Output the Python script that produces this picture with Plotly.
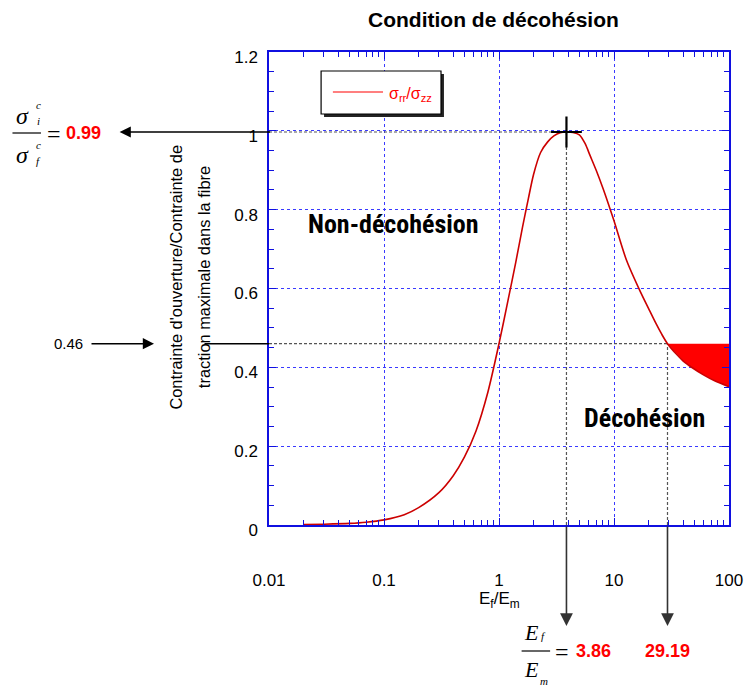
import math
import plotly.graph_objects as go

# ---------------- data ----------------
ef_em = [0.02, 0.03, 0.05, 0.07, 0.1, 0.15, 0.2, 0.3, 0.4, 0.5, 0.63, 0.8, 1.0, 1.2, 1.4,
         1.6, 1.8, 2.0, 2.3, 2.65, 3.0, 3.4, 3.86, 4.4, 5.0, 5.6, 6.2, 7.0, 8.0, 9.0, 10,
         12.8, 16.7, 20, 23.1, 26, 29.19, 35, 40, 48, 60, 75, 100]
ratio = [0.001, 0.002, 0.004, 0.007, 0.013, 0.026, 0.044, 0.082, 0.125, 0.172, 0.238,
         0.337, 0.46, 0.571, 0.667, 0.755, 0.828, 0.89, 0.945, 0.972, 0.987, 0.995, 0.997,
         0.996, 0.99, 0.968, 0.937, 0.90, 0.855, 0.812, 0.772, 0.673, 0.596, 0.549, 0.512,
         0.484, 0.46, 0.433, 0.416, 0.399, 0.381, 0.366, 0.351]

peak_x = 3.86
peak_y = 0.997
peak_label = "0.99"
threshold_y = 0.46
threshold_label = "0.46"
threshold_x = 29.19

x_tickvals = [0.01, 0.1, 1, 10, 100]
x_ticktext = ["0.01", "0.1", "1", "10", "100"]
y_tickvals = [0, 0.2, 0.4, 0.6, 0.8, 1.0, 1.2]
y_ticktext = ["0", "0.2", "0.4", "0.6", "0.8", "1", "1.2"]

title_text = "Condition de décohésion"
y_title_lines = ["Contrainte d'ouverture/Contrainte de", "traction maximale dans la fibre"]
x_title = "E<sub>f</sub>/E<sub>m</sub>"
legend_text = "σ<sub>rr</sub>/σ<sub>zz</sub>"
zone_upper = "Non-décohésion"
zone_lower = "Décohésion"

# ---------------- layout geometry ----------------
W, H = 755, 686
OFF = 8  # page body margin
L, R, T, B = 269, 737, 52, 525
PW, PH = R - L, B - T


def px(xp):
    return (xp - L) / PW


def py(yp):
    return (B - yp) / PH


SANS = "Arial, Liberation Sans, sans-serif"
NARROW = "Liberation Sans Narrow, Arial Narrow, Roboto Condensed, DejaVu Sans Condensed, sans-serif"
SERIF = "Times New Roman, Liberation Serif, serif"
BLUE = "#1010e0"
GRIDBLUE = "#3a3aff"
RED = "#ff0000"
CURVE = "#cc0000"
DASH = "#555555"

fig = go.Figure()

# fill (décohésion region)
fx = [v for v in ef_em if v >= threshold_x]
fy = [r for v, r in zip(ef_em, ratio) if v >= threshold_x]
fig.add_trace(go.Scatter(x=fx + [fx[-1], fx[0]], y=fy + [threshold_y, threshold_y],
                         fill="toself", fillcolor=RED, mode="lines",
                         line=dict(width=0, color=RED), showlegend=False, hoverinfo="skip"))

# dashed guide lines
for xs, ys in [([0.01, peak_x], [peak_y, peak_y]),
               ([peak_x, peak_x], [0, peak_y]),
               ([0.01, threshold_x], [threshold_y, threshold_y]),
               ([threshold_x, threshold_x], [0, threshold_y])]:
    fig.add_trace(go.Scatter(x=xs, y=ys, mode="lines",
                             line=dict(color=DASH, width=1.2, dash="3px,2px"),
                             showlegend=False, hoverinfo="skip"))

# curve
fig.add_trace(go.Scatter(x=ef_em, y=ratio, mode="lines", line=dict(color=CURVE, width=1.6),
                         name="σrr/σzz", showlegend=False, line_shape="spline",
                         line_smoothing=0.8))

# peak marker
fig.add_trace(go.Scatter(x=[peak_x], y=[peak_y], mode="markers",
                         marker=dict(symbol="cross-thin", size=22,
                                     line=dict(color="black", width=2.2)),
                         showlegend=False, hoverinfo="skip"))

axis_common = dict(showline=True, linecolor=BLUE, linewidth=1.5, mirror="allticks",
                   ticks="inside", tickcolor=BLUE, ticklen=7, tickwidth=1,
                   showgrid=True, gridcolor=GRIDBLUE, gridwidth=1, griddash="dot",
                   zeroline=False, tickfont=dict(family=SANS, size=17, color="black"))

fig.update_xaxes(type="log", range=[-2, 2], tickvals=x_tickvals, ticktext=x_ticktext,
                 ticklabelstandoff=39,
                 minor=dict(ticks="inside", ticklen=5, tickcolor=BLUE, showgrid=False,
                            tickvals=[m * 10 ** e for e in range(-2, 2) for m in range(2, 10)]),
                 **axis_common)
fig.update_yaxes(range=[0, 1.2], tickvals=y_tickvals, ticktext=y_ticktext,
                 ticklabelstandoff=6, ticklabelshift=5,
                 minor=dict(ticks="inside", ticklen=5, tickcolor=BLUE, showgrid=False, dtick=0.05),
                 **axis_common)

ann = []
shapes = []


def text(xp, yp, s, size, color="black", family=SANS, xanchor="center", angle=0):
    ann.append(dict(xref="paper", yref="paper", x=px(xp), y=py(yp), text=s, showarrow=False,
                    xanchor=xanchor, yanchor="middle", textangle=angle,
                    font=dict(family=family, size=size, color=color)))


# title, axis titles, zone labels
text(497, 20, "<b>" + title_text + "</b>", 21)
text(174, 277, y_title_lines[0], 16.4, angle=-90)
text(203, 277, y_title_lines[1], 16.4, angle=-90)
text(503, 600, x_title, 17)
text(396, 224, "<b>" + zone_upper + "</b>", 26, family=NARROW)
text(651, 418, "<b>" + zone_lower + "</b>", 26, family=NARROW)

# legend box (drawn)
shapes.append(dict(type="rect", xref="paper", yref="paper", x0=px(325), x1=px(447),
                   y0=py(74), y1=py(117), fillcolor="#222", line=dict(width=0), layer="above"))
shapes.append(dict(type="rect", xref="paper", yref="paper", x0=px(322), x1=px(444),
                   y0=py(71), y1=py(114), fillcolor="white", line=dict(color="black", width=1.2),
                   layer="above"))
shapes.append(dict(type="line", xref="paper", yref="paper", x0=px(334), x1=px(385),
                   y0=py(92), y1=py(92), line=dict(color=RED, width=1.2), layer="above"))
text(389, 94, legend_text, 16, color=RED, xanchor="left")

# arrows
AH = dict(showarrow=True, arrowhead=2, arrowsize=1.6, arrowwidth=1.4, arrowcolor="black", text="")
# peak -> left formula
ann.append(dict(xref="paper", yref="y", x=px(117), y=peak_y, ax=L - 117, ay=0, **AH))
# 0.46 label arrow
ann.append(dict(xref="paper", yref="y", x=px(152), y=threshold_y, ax=-64, ay=0, **AH))
ann.append(dict(xref="paper", yref="y", x=0, y=threshold_y, ax=-66, ay=0,
                showarrow=True, arrowhead=0, arrowwidth=1.4, arrowcolor="black", text=""))
ann.append(dict(xref="paper", yref="y", x=px(65), y=threshold_y, text=threshold_label,
                showarrow=False, xanchor="center", yanchor="middle",
                font=dict(family=SANS, size=15, color="black")))
# vertical arrows below axis
VA = dict(showarrow=True, arrowhead=2, arrowsize=1.6, arrowwidth=1.6, arrowcolor="#333", text="")
for xv in [peak_x, threshold_x]:
    ann.append(dict(xref="x", yref="paper", x=math.log10(xv), y=py(626), ax=0, ay=-(626 - B), **VA))

# left formula sigma_i^c / sigma_f^c = 0.99
text(18, 116, "<i>σ</i>", 24, family=SERIF)
text(34, 105, "<i>c</i>", 11, family=SERIF)
text(34, 121, "<i>i</i>", 11, family=SERIF)
shapes.append(dict(type="line", xref="paper", yref="paper", x0=px(8), x1=px(37),
                   y0=py(133), y1=py(133), line=dict(color="black", width=1.2)))
text(18, 155, "<i>σ</i>", 24, family=SERIF)
text(34, 145, "<i>c</i>", 11, family=SERIF)
text(34, 161, "<i>f</i>", 11, family=SERIF)
text(50, 134, "=", 24, family=SERIF)
text(60, 133, "<b>" + peak_label + "</b>", 18, color=RED, xanchor="left")

# bottom formula E_f / E_m = 3.86   29.19
text(536, 632, "<i>E</i>", 22, family=SERIF)
text(548, 636, "<i>f</i>", 11, family=SERIF)
shapes.append(dict(type="line", xref="paper", yref="paper", x0=px(526), x1=px(555),
                   y0=py(651), y1=py(651), line=dict(color="black", width=1.2)))
text(536, 669, "<i>E</i>", 22, family=SERIF)
text(549, 681, "<i>m</i>", 11, family=SERIF)
text(567, 652, "=", 24, family=SERIF)
text(579, 651, "<b>%.2f</b>" % peak_x, 18, color=RED, xanchor="left")
text(650, 651, "<b>%.2f</b>" % threshold_x, 18, color=RED, xanchor="left")

fig.update_layout(width=W - OFF, height=H - OFF,
                  margin=dict(l=L - OFF, r=W - R, t=T - OFF, b=H - B),
                  plot_bgcolor="white", paper_bgcolor="white",
                  annotations=ann, shapes=shapes, showlegend=False)

fig.write_html("out.html")
